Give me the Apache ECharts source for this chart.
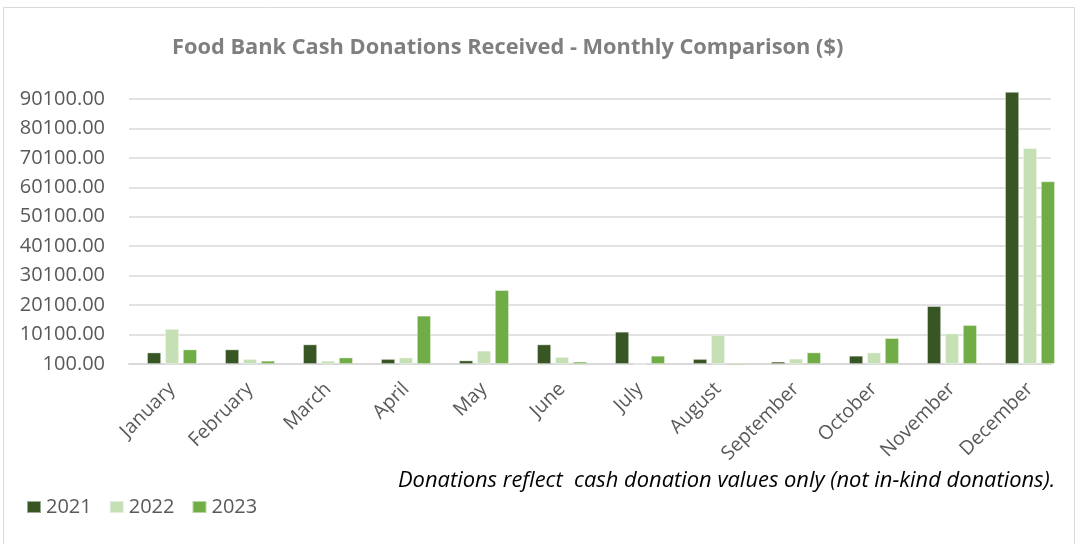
<!DOCTYPE html>
<html>
<head>
<meta charset="utf-8">
<script src="https://cdn.jsdelivr.net/npm/echarts@6/dist/echarts.min.js"></script>
<style>
html,body{margin:0;padding:0;background:#fff;}
#chart{width:1081px;height:544px;}
</style>
</head>
<body>
<div id="chart"></div>
<script>
const categories = ['January','February','March','April','May','June','July','August','September','October','November','December'];
const seriesNames = ['2021','2022','2023'];
const values2021 = [4000, 5050, 6750, 1800, 1300, 6750, 11050, 1800, 880, 2900, 19760, 92500];
const values2022 = [12000, 1800, 1200, 2300, 4600, 2470, 100, 10000, 1900, 4000, 10470, 73430];
const values2023 = [5050, 1200, 2300, 16500, 25200, 880, 2900, -400, 4030, 8900, 13320, 62140];
const axisBase = 100;      // value axis starts at 100.00 (bars grow from it)
const axisTop = 90100;     // top tick label
const tickStep = 10000;
const colors = ['#375623', '#c5e0b4', '#70ad47'];
const titleText = 'Food Bank Cash Donations Received - Monthly Comparison ($)';
const noteText = 'Donations reflect  cash donation values only (not in-kind donations).';

const chart = echarts.init(document.getElementById('chart'), null, {renderer: 'canvas'});
const allValues = [values2021, values2022, values2023];
const fontFam = '"Open Sans", "Noto Sans", sans-serif';

const option = {
  backgroundColor: '#ffffff',
  animation: false,
  title: {
    text: titleText,
    left: 167, top: 32,
    textStyle: {fontFamily: fontFam, fontSize: 21.8, fontWeight: 'bold', color: '#7f7f7f'}
  },
  legend: {
    data: seriesNames,
    left: 21, top: 492,
    itemWidth: 14, itemHeight: 12, itemGap: 17,
    icon: 'rect',
    textStyle: {fontFamily: fontFam, fontSize: 20, color: '#595959'}
  },
  graphic: [
    {type: 'rect', shape: {x: 3.5, y: 7.5, width: 1071, height: 540}, style: {fill: 'none', stroke: '#d9d9d9', lineWidth: 1}, silent: true, z: -10},
    {type: 'text', left: 398, top: 470, style: {text: noteText, font: 'italic 21.9px "Open Sans", "Noto Sans", sans-serif', fill: '#000000'}}
  ],
  grid: [
    {left: 129, right: 30, top: 99, bottom: 180},
    {left: 133, right: 12, top: 99, bottom: 180}
  ],
  xAxis: [
    {type: 'category', gridIndex: 0, data: categories,
     axisLine: {show: true, lineStyle: {color: '#d9d9d9', width: 2}},
     axisTick: {show: false}, axisLabel: {show: false}},
    {type: 'category', gridIndex: 1, data: categories,
     axisLine: {show: false}, axisTick: {show: false},
     axisLabel: {rotate: 45, margin: 22, fontFamily: fontFam, fontSize: 19.5, color: '#595959', interval: 0}}
  ],
  yAxis: [
    {type: 'value', gridIndex: 0, min: 0, max: axisTop - axisBase, interval: tickStep,
     axisLine: {show: false}, axisTick: {show: false},
     splitLine: {show: true, lineStyle: {color: '#d9d9d9', width: 1.5}},
     axisLabel: {margin: 24, fontFamily: fontFam, fontSize: 20, color: '#595959',
       formatter: v => (v + axisBase).toFixed(2)}},
    {type: 'value', gridIndex: 1, min: 0, max: axisTop - axisBase, interval: tickStep, show: false,
     splitLine: {show: false}}
  ],
  series: seriesNames.map((name, i) => ({
    name: name,
    type: 'bar',
    xAxisIndex: 1, yAxisIndex: 1,
    data: allValues[i].map(v => v - axisBase),
    barWidth: 14,
    barGap: '28%',
    clip: false,
    itemStyle: {color: colors[i], borderColor: 'rgba(255,255,255,0.5)', borderWidth: 0.8}
  }))
};
chart.setOption(option);
</script>
</body>
</html>
